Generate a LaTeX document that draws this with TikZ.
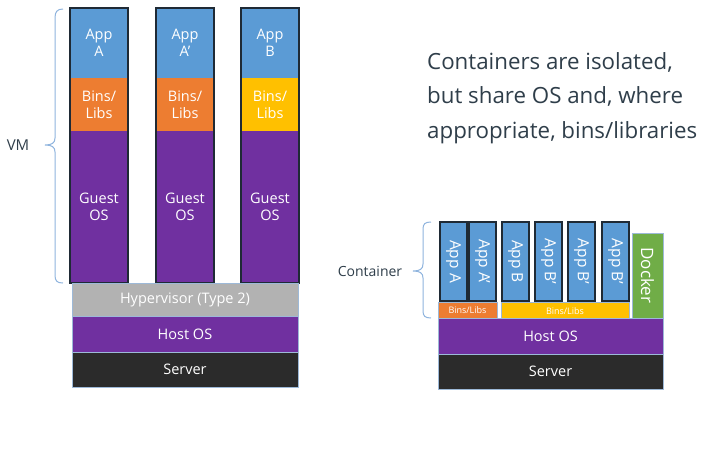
\documentclass[tikz,border=0pt]{standalone}
\usepackage{fontspec}
\setmainfont{Open Sans}
\begin{document}
\begin{tikzpicture}[x=1pt,y=-1pt,
  blk/.style={anchor=north west,inner sep=0pt,outer sep=0pt,text=white,align=center,font=\fontsize{14.5}{17}\selectfont},
  vtxt/.style={anchor=center,inner sep=0pt,text=white,rotate=-90,font=\fontsize{15.5}{17}\selectfont},
  colb/.style={draw=colborder,line width=2.6pt},
  layer/.style={blk,draw=layerline,line width=0.8pt},
  appbox/.style={blk,fill=cblue,draw=colborder,line width=2pt,minimum width=27pt,minimum height=79pt},
  brc/.style={draw=bracecol,line width=1pt},
  lbl/.style={text=headcol,font=\fontsize{14}{16}\selectfont}]
\definecolor{cblue}{HTML}{5B9BD5}
\definecolor{corange}{HTML}{ED7D31}
\definecolor{cyellow}{HTML}{FFC000}
\definecolor{cpurple}{HTML}{7030A0}
\definecolor{cgray}{HTML}{B2B2B2}
\definecolor{cserver}{HTML}{2B2B2B}
\definecolor{cgreen}{HTML}{70AD47}
\definecolor{colborder}{HTML}{1F2A35}
\definecolor{layerline}{HTML}{9DB9D8}
\definecolor{bracecol}{HTML}{8FB4DE}
\definecolor{headcol}{HTML}{2F3E4A}
\useasboundingbox[fill=white] (0,0) rectangle (720,450);

% ---------- left: VMs ----------
\foreach \x/\a/\bc/\nm in {70/{App\\A}/corange/1,156/{App\\A'}/corange/2,241/{App\\B}/cyellow/3}{
  \node[blk,fill=cblue,minimum width=58pt,minimum height=70pt] (app\nm) at (\x,8) {\a};
  \node[blk,fill=\bc,minimum width=58pt,minimum height=53pt] (bins\nm) at (\x,78) {Bins/\\Libs};
  \node[blk,fill=cpurple,minimum width=58pt,minimum height=152pt] (guest\nm) at (\x,131) {Guest\\OS};
  \draw[colb] (app\nm.north west) rectangle (guest\nm.south east);
}
\node[layer,fill=cgray,minimum width=226pt,minimum height=33pt] (hyp) at (72,283) {Hypervisor (Type 2)};
\node[layer,fill=cpurple,minimum width=226pt,minimum height=36pt] (host1) at (72,316) {Host OS};
\node[layer,fill=cserver,minimum width=226pt,minimum height=35pt] (server1) at (72,352) {Server};

\draw[brc] (63,9) .. controls (57,9) and (55,12) .. (55,18) -- (55,138)
  .. controls (55,143) and (52,145) .. (45,145) .. controls (52,145) and (55,147) .. (55,152)
  -- (55,275) .. controls (55,281) and (57,283) .. (63,283);
\node[lbl,font=\fontsize{15}{17}\selectfont] (vm) at (18,145) {VM};

% ---------- right: containers ----------
\node[appbox] (ca) at (440,222) {};
\node[vtxt] at (ca.center) {App A};
\node[appbox] (caa) at (469,222) {};
\node[vtxt] at (caa.center) {App A'};
\node[appbox] (cb) at (502,222) {};
\node[vtxt] at (cb.center) {App B};
\node[appbox] (cb1) at (535,222) {};
\node[vtxt] at (cb1.center) {App B'};
\node[appbox] (cb2) at (568,222) {};
\node[vtxt] at (cb2.center) {App B'};
\node[appbox] (cb3) at (602,222) {};
\node[vtxt] at (cb3.center) {App B'};
\node[blk,fill=cgreen,draw=layerline,line width=0.8pt,minimum width=31pt,minimum height=85pt] (dock) at (632,233) {};
\node[vtxt,font=\fontsize{17}{19}\selectfont] at (dock.center) {Docker};
\node[blk,fill=corange,draw=layerline,line width=0.6pt,minimum width=59pt,minimum height=16pt,font=\fontsize{9}{10}\selectfont] (binsA) at (438,302) {Bins/Libs};
\node[blk,fill=cyellow,draw=layerline,line width=0.6pt,minimum width=128pt,minimum height=18pt,font=\fontsize{9}{10}\selectfont] (binsB) at (501,302) {Bins/Libs};
\node[layer,fill=cpurple,minimum width=225pt,minimum height=36pt] (host2) at (438,318) {Host OS};
\node[layer,fill=cserver,minimum width=225pt,minimum height=35pt] (server2) at (438,354) {Server};

\draw[brc] (431,222) .. controls (425,222) and (423,224) .. (423,229) -- (423,264)
  .. controls (423,269) and (420,271) .. (413,271) .. controls (420,271) and (423,273) .. (423,278)
  -- (423,311) .. controls (423,316) and (425,318) .. (431,318);
\node[lbl] (cont) at (370,271) {Container};

% ---------- heading ----------
\node[text=headcol,anchor=north west,align=left,inner sep=0pt,font=\fontsize{22.3}{34.5}\selectfont] (head) at (427,52)
  {Containers are isolated,\\but share OS and, where\\appropriate, bins/libraries};
\end{tikzpicture}
\end{document}
